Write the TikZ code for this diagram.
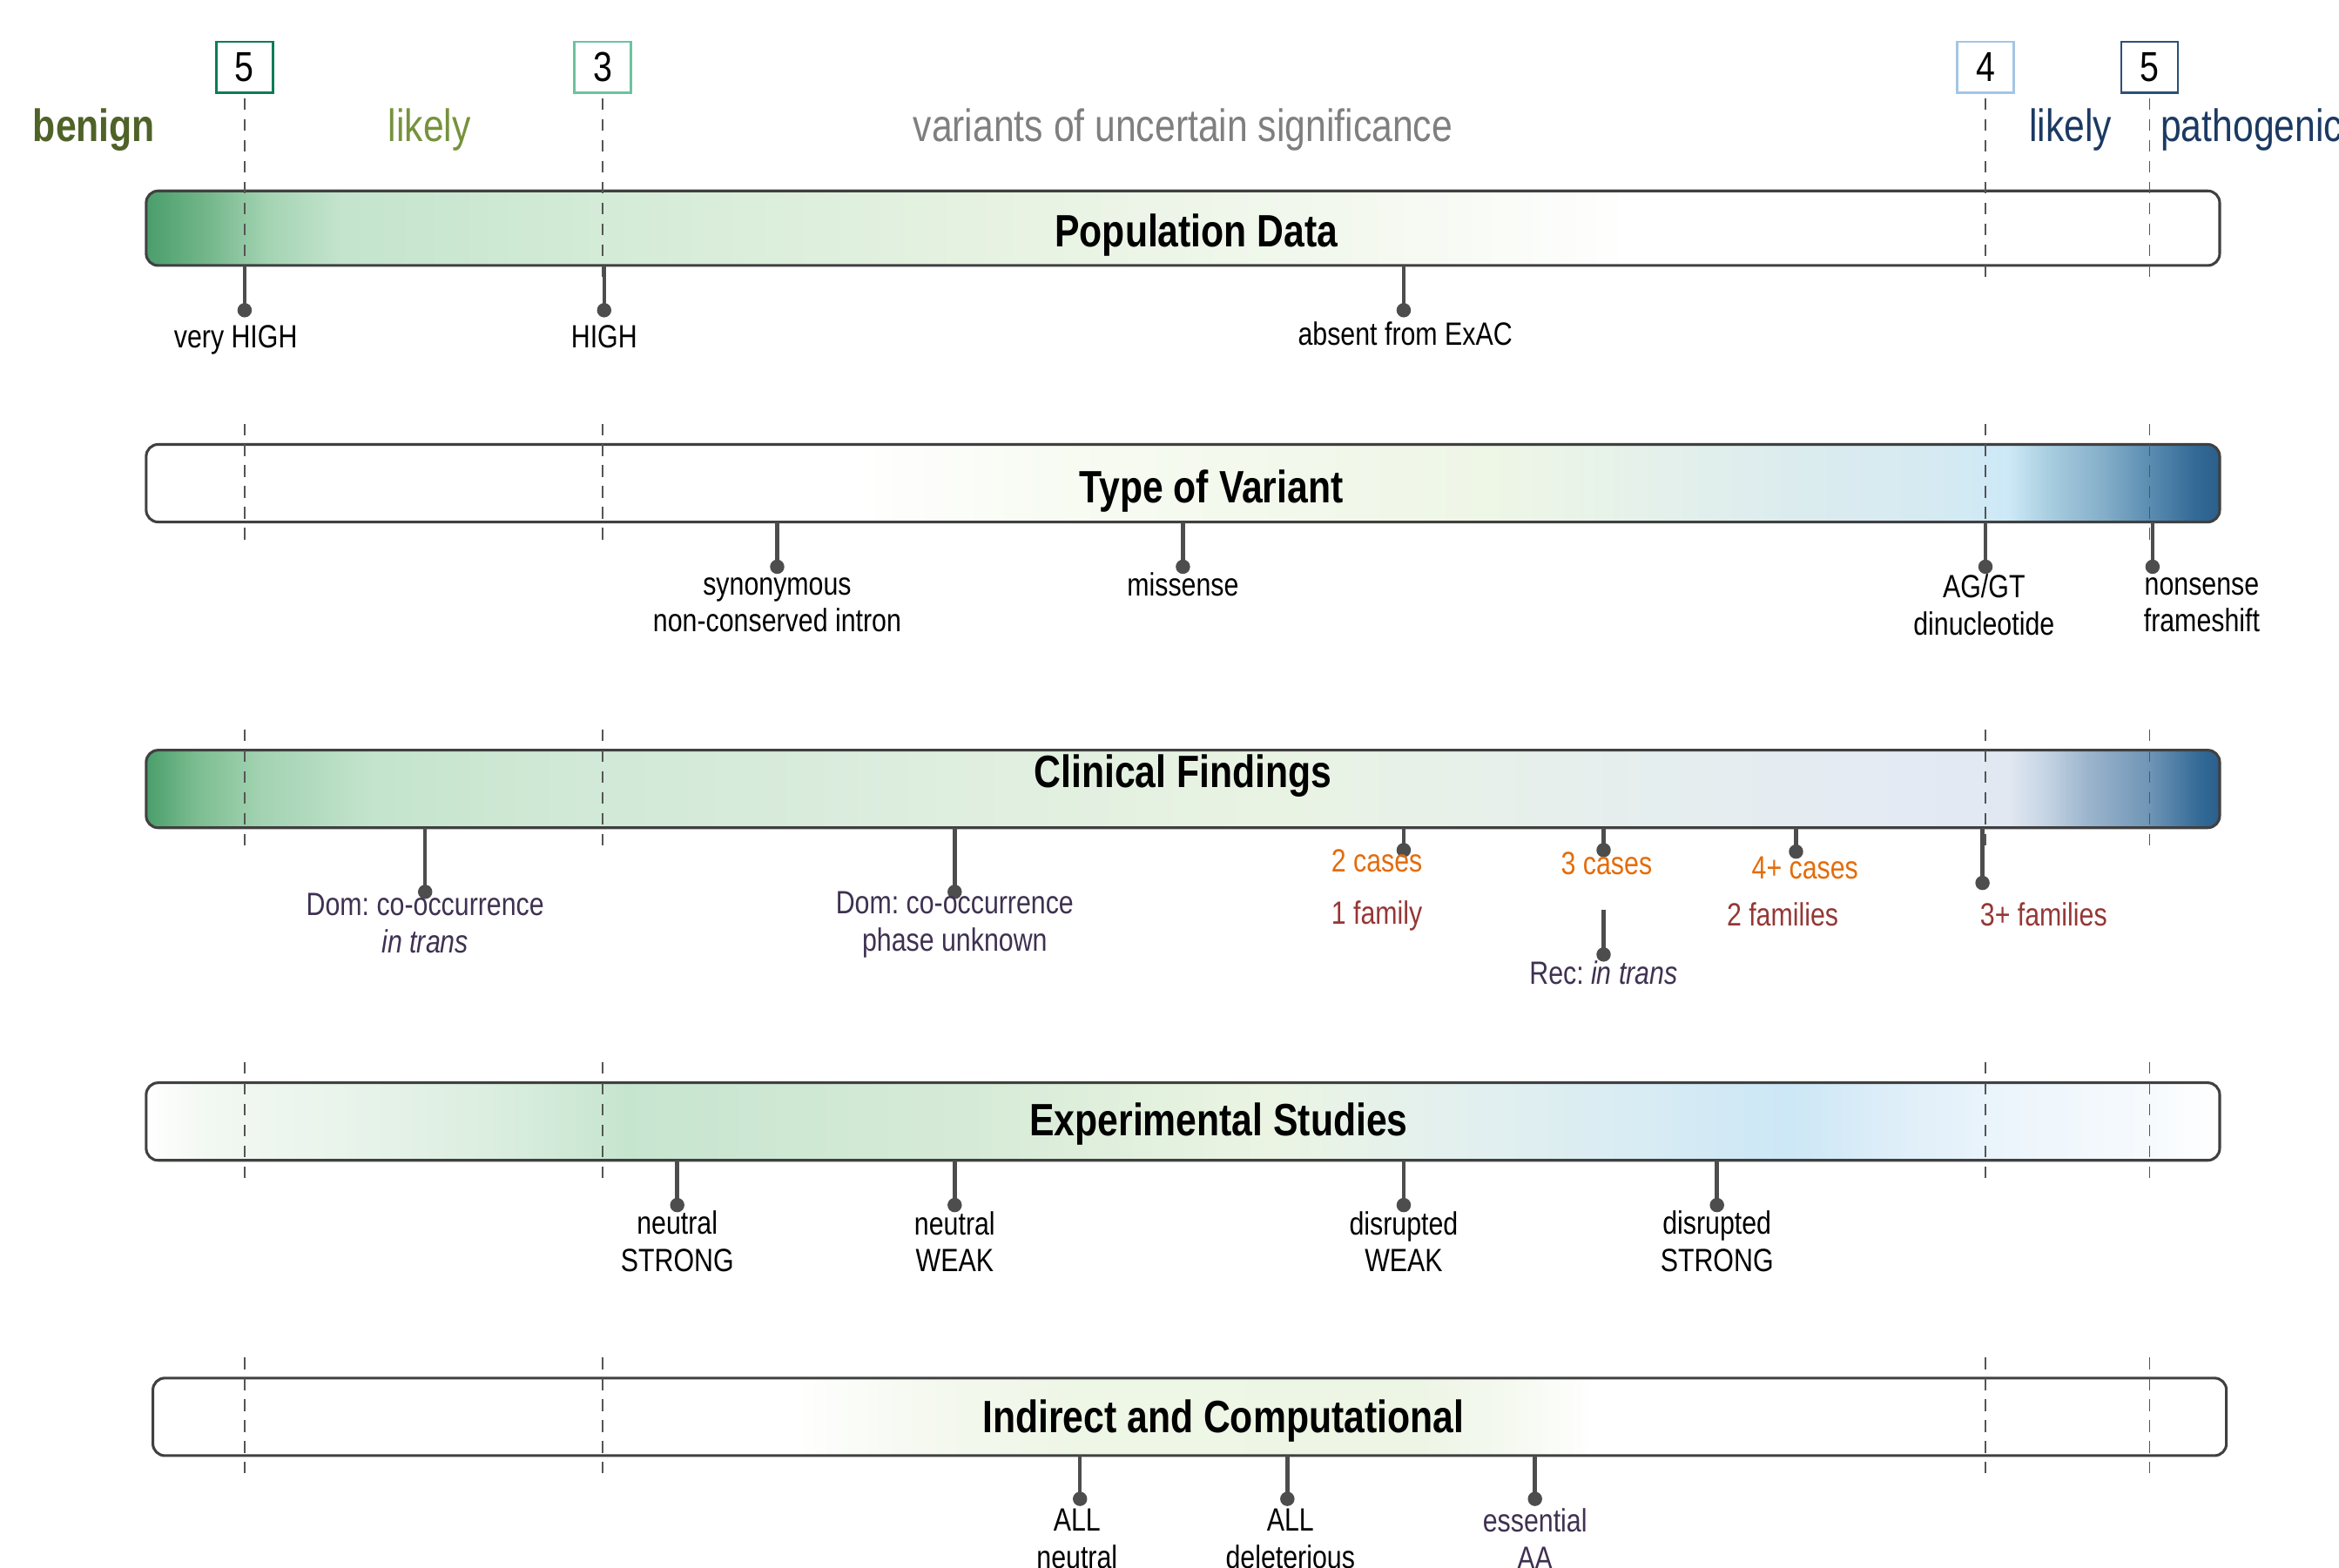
\documentclass[tikz,border=0pt]{standalone}
\usepackage{fontspec}
\setmainfont{Liberation Sans}[FakeStretch=0.82]
\usepackage{tikz}
\usetikzlibrary{positioning}
\frenchspacing

% colours used by the bar shadings
\definecolor{grn0}{HTML}{4A9E6B}
\definecolor{grn1}{HTML}{74B78B}
\definecolor{grn2}{HTML}{A3D3B2}
\definecolor{grn3}{HTML}{C4E4CD}
\definecolor{grn4}{HTML}{D3EBD7}
\definecolor{grn5}{HTML}{E6F2E1}
\definecolor{grn6}{HTML}{F3F8EE}
\definecolor{pale1}{HTML}{F8FBF3}
\definecolor{pale2}{HTML}{EEF6E6}
\definecolor{sky1}{HTML}{DCECEE}
\definecolor{sky2}{HTML}{D5EAF2}
\definecolor{sky3}{HTML}{CDE9F7}
\definecolor{blu1}{HTML}{ABCFE2}
\definecolor{blu2}{HTML}{84AEC9}
\definecolor{blu3}{HTML}{5B8DB1}
\definecolor{blu4}{HTML}{336A96}
\definecolor{blu5}{HTML}{2B5F8C}
\definecolor{clA}{HTML}{7CBD90}
\definecolor{clB}{HTML}{CFE8D5}
\definecolor{clC}{HTML}{DCEDDE}
\definecolor{clD}{HTML}{E9F3E3}
\definecolor{clE}{HTML}{E6EFEC}
\definecolor{clF}{HTML}{E4EBF3}
\definecolor{clG}{HTML}{E1E8F2}
\definecolor{clH}{HTML}{C5D4E4}
\definecolor{clI}{HTML}{9CB5CD}
\definecolor{clJ}{HTML}{6F95B6}
\definecolor{exA}{HTML}{F2F8F2}
\definecolor{exB}{HTML}{E9F4EB}
\definecolor{exC}{HTML}{DBEEE0}
\definecolor{exD}{HTML}{C6E5CF}
\definecolor{exE}{HTML}{CCE7D3}
\definecolor{exF}{HTML}{D6EBD7}
\definecolor{exG}{HTML}{EBF4E3}
\definecolor{exH}{HTML}{E1EFF0}
\definecolor{exI}{HTML}{D8ECF3}
\definecolor{exJ}{HTML}{CCE7F6}
\definecolor{exK}{HTML}{E0EFF9}
\definecolor{exL}{HTML}{EEF6FC}
\definecolor{exM}{HTML}{F6FAFD}
\definecolor{inA}{HTML}{F5F9F0}
\definecolor{inB}{HTML}{EDF5E5}
\definecolor{inC}{HTML}{F6FAF2}

\pgfdeclarehorizontalshading{popshade}{100bp}{color(0bp)=(grn0); color(25bp)=(grn0);
  color(26.5bp)=(grn1); color(27.9bp)=(grn2); color(29.7bp)=(grn3); color(35.9bp)=(grn4);
  color(44.9bp)=(grn5); color(53.8bp)=(grn6); color(61bp)=(white); color(100bp)=(white)}
\pgfdeclarehorizontalshading{typeshade}{100bp}{color(0bp)=(white); color(42bp)=(white);
  color(46.7bp)=(pale1); color(57.4bp)=(pale2); color(64.6bp)=(sky1); color(68.2bp)=(sky2);
  color(69.9bp)=(sky3); color(70.8bp)=(blu1); color(72.2bp)=(blu2); color(73.3bp)=(blu3);
  color(74.4bp)=(blu4); color(75bp)=(blu5); color(100bp)=(blu5)}
\pgfdeclarehorizontalshading{clinshade}{100bp}{color(0bp)=(grn0); color(25bp)=(grn0);
  color(26.2bp)=(clA); color(27.8bp)=(grn2); color(30.5bp)=(grn3); color(34.4bp)=(clB);
  color(43bp)=(clC); color(52bp)=(clD); color(59.2bp)=(clE); color(66.4bp)=(clF);
  color(69.9bp)=(clG); color(70.8bp)=(clH); color(71.8bp)=(clI); color(73.3bp)=(clJ);
  color(74.5bp)=(blu4); color(75bp)=(blu5); color(100bp)=(blu5)}
\pgfdeclarehorizontalshading{expshade}{100bp}{color(0bp)=(white); color(25bp)=(white);
  color(26.5bp)=(exA); color(29.7bp)=(exB); color(33.3bp)=(exC); color(36.6bp)=(exD);
  color(39.5bp)=(exE); color(44.9bp)=(exF); color(52bp)=(exG); color(57.4bp)=(exH);
  color(61bp)=(exI); color(64.6bp)=(exJ); color(67.5bp)=(exK); color(70.4bp)=(exL);
  color(73.3bp)=(exM); color(75bp)=(white); color(100bp)=(white)}
\pgfdeclarehorizontalshading{indshade}{100bp}{color(0bp)=(white); color(40.4bp)=(white);
  color(43.6bp)=(inA); color(47.2bp)=(pale2); color(55.5bp)=(inB);
  color(58bp)=(inC); color(59.8bp)=(white); color(100bp)=(white)}

\definecolor{barline}{HTML}{404040}
\definecolor{pincol}{HTML}{4D4D4D}
\definecolor{gradecol}{HTML}{555555}

\tikzset{
  bar/.style={draw=barline, line width=0.9pt, rounded corners=4pt, shade,
    minimum width=695pt, minimum height=26pt, inner sep=0pt, outer sep=0pt},
  bartitle/.style={font=\fontsize{15.2}{18}\selectfont\bfseries, inner sep=0pt},
  header/.style={font=\fontsize{15.2}{18}\selectfont, inner sep=0pt},
  lbl/.style={font=\fontsize{10.8}{12.5}\selectfont, align=center, inner sep=0pt},
  scorebox/.style={line width=0.8pt, minimum width=19pt, minimum height=17pt,
    inner sep=0pt, fill=white, font=\fontsize{14}{16}\selectfont},
  pin/.style={draw=pincol, line width=1.3pt},
  grade/.style={draw=gradecol, line width=0.5pt, dash pattern=on 4pt off 3pt},
}

\begin{document}
\begin{tikzpicture}[x=0.5pt, y=-0.5pt]
% Defining colors
\definecolor{benigncol}{HTML}{4F6228}
\definecolor{likelygrn}{HTML}{76923C}
\definecolor{vuscol}{HTML}{7F7F7F}
\definecolor{pathblue}{HTML}{1B3A63}

\definecolor{box5g}{HTML}{0E7C56}
\definecolor{box3g}{HTML}{6CC2A0}
\definecolor{box4b}{HTML}{A4C6E6}
\definecolor{box5b}{HTML}{2D5079}

\definecolor{casecol}{HTML}{E46C0A}
\definecolor{famcol}{HTML}{953735}
\definecolor{domcol}{HTML}{3F3151}

\useasboundingbox (0,0) rectangle (1568,1051);

% =:=:=:=:=:=:=:=:=:=:=:=:=:=:=:=:=:=:=
% Score boxes and classes
% =:=:=:=:=:=:=:=:=:=:=:=:=:=:=:=:=:=:=
\node[scorebox, draw=box5g] (s1) at (164,45) {5};
\node[scorebox, draw=box3g] (s2) at (404,45) {3};
\node[scorebox, draw=box4b] (s3) at (1331,45) {4};
\node[scorebox, draw=box5b] (s4) at (1441,45) {5};

\node[header, text=benigncol] (benign) at (63,87) {\textbf{benign}};
\node[header, text=likelygrn] (lben) at (288,87) {likely};
\node[header, text=vuscol] (vus) at (793,87) {variants of uncertain significance};
\node[header, text=pathblue] (lpat) at (1388,87) {likely};
\node[header, text=pathblue, anchor=west] (patho) at (1448,87) {pathogenic};

% =:=:=:=:=:=:=:=:=:=:=:=:=:=:=:=:=:=:=
% The five bars
% =:=:=:=:=:=:=:=:=:=:=:=:=:=:=:=:=:=:=
\node[bar, shading=popshade, minimum height=25pt] (pop) at (793,153) {};
\node[bar, shading=typeshade] (tov) at (793,324) {};
\node[bar, shading=clinshade] (clin) at (793,529) {};
\node[bar, shading=expshade] (expt) at (793,752) {};
\node[bar, shading=indshade] (ind) at (797.5,950) {};

\node[bartitle] (popT) at (802,157.5) {Population Data};
\node[bartitle] (tovT) at (812,329.5) {Type of Variant};
\node[bartitle] (clinT) at (793,520.5) {Clinical Findings};
\node[bartitle] (exptT) at (817,753.5) {Experimental Studies};
\node[bartitle] (indT) at (820,952.5) {Indirect and Computational};

% dashed class borders
\foreach \sc in {s1,s2,s3,s4}{
  \draw[grade, shorten <=1.5pt, shorten >=-6pt] (\sc.south) -- (\sc |- pop.south);
  \foreach \rw in {tov,clin,expt,ind}
    \draw[grade, shorten <=-7pt, shorten >=-7pt] (\sc |- \rw.north) -- (\sc |- \rw.south);
}

% =:=:=:=:=:=:=:=:=:=:=:=:=:=:=:=:=:=:=
% Population Data
% =:=:=:=:=:=:=:=:=:=:=:=:=:=:=:=:=:=:=
\coordinate (vhd) at (164,208);
\coordinate (hid) at (405,208);
\coordinate (exd) at (941,208);
\draw[pin] (vhd |- pop.south) -- (vhd);
\draw[pin] (hid |- pop.south) -- (hid);
\draw[pin] (exd |- pop.south) -- (exd);
\filldraw[pincol] (vhd) circle (2.2pt) (hid) circle (2.2pt) (exd) circle (2.2pt);

\node[lbl] (vhigh) at (158,228) {very HIGH};
\node[lbl] (high) at (405,226) {HIGH};
\node[lbl] (exac) at (942,224) {absent from ExAC};

% =:=:=:=:=:=:=:=:=:=:=:=:=:=:=:=:=:=:=
% Type of Variant
% =:=:=:=:=:=:=:=:=:=:=:=:=:=:=:=:=:=:=
\coordinate (synd) at (521,380);
\coordinate (misd) at (793,380);
\coordinate (agd) at (1331,380);
\coordinate (nond) at (1443,380);
\draw[pin] (synd |- tov.south) -- (synd);
\draw[pin] (misd |- tov.south) -- (misd);
\draw[pin] (agd |- tov.south) -- (agd);
\draw[pin] (nond |- tov.south) -- (nond);
\filldraw[pincol] (synd) circle (2.2pt) (misd) circle (2.2pt)
    (agd) circle (2.2pt) (nond) circle (2.2pt);

\node[lbl] (syn) at (521,405.5) {synonymous\\non-conserved intron};
\node[lbl] (mis) at (793,392) {missense};
\node[lbl] (agt) at (1330,405.5) {AG/GT\\dinucleotide};
\node[lbl] (nons) at (1476,405.5) {nonsense\\frameshift};

% =:=:=:=:=:=:=:=:=:=:=:=:=:=:=:=:=:=:=
% Clinical Findings
% =:=:=:=:=:=:=:=:=:=:=:=:=:=:=:=:=:=:=
\coordinate (dom1d) at (285,598);
\coordinate (dom2d) at (640,598);
\coordinate (c2d) at (941,570);
\coordinate (c3d) at (1075,570);
\coordinate (c4d) at (1204,571);
\coordinate (f3d) at (1329,592);
\coordinate (recA) at (1075,610);
\coordinate (recd) at (1075,640);
\draw[pin] (dom1d |- clin.south) -- (dom1d);
\draw[pin] (dom2d |- clin.south) -- (dom2d);
\draw[pin] (c2d |- clin.south) -- (c2d);
\draw[pin] (c3d |- clin.south) -- (c3d);
\draw[pin] (c4d |- clin.south) -- (c4d);
\draw[pin] (f3d |- clin.south) -- (f3d);
\draw[pin] (recA) -- (recd);
\filldraw[pincol] (dom1d) circle (2.2pt) (dom2d) circle (2.2pt) (c2d) circle (2.2pt)
    (c3d) circle (2.2pt) (c4d) circle (2.2pt) (f3d) circle (2.2pt) (recd) circle (2.2pt);

\node[lbl, text=domcol] (dom1) at (285,619) {Dom: co-occurrence\\\textit{in trans}};
\node[lbl, text=domcol] (dom2) at (640,620) {Dom: co-occurrence\\phase unknown};
\node[lbl, text=casecol] (c2) at (923,577) {2 cases};
\node[lbl, text=casecol] (c3) at (1077,579) {3 cases};
\node[lbl, text=casecol] (c4) at (1210,582) {4+ cases};
\node[lbl, text=famcol] (f1) at (923,614) {1 family};
\node[lbl, text=famcol] (f2) at (1195,613) {2 families};
\node[lbl, text=famcol] (f3) at (1370,613) {3+ families};
\node[lbl, text=domcol] (rec) at (1075,652) {Rec: \textit{in trans}};

% =:=:=:=:=:=:=:=:=:=:=:=:=:=:=:=:=:=:=
% Experimental Studies
% =:=:=:=:=:=:=:=:=:=:=:=:=:=:=:=:=:=:=
\coordinate (nsd) at (454,808);
\coordinate (nwd) at (640,808);
\coordinate (dwd) at (941,808);
\coordinate (dsd) at (1151,808);
\draw[pin] (nsd |- expt.south) -- (nsd);
\draw[pin] (nwd |- expt.south) -- (nwd);
\draw[pin] (dwd |- expt.south) -- (dwd);
\draw[pin] (dsd |- expt.south) -- (dsd);
\filldraw[pincol] (nsd) circle (2.2pt) (nwd) circle (2.2pt)
    (dwd) circle (2.2pt) (dsd) circle (2.2pt);

\node[lbl] (nstr) at (454,832.5) {neutral\\STRONG};
\node[lbl] (nwk) at (640,832.5) {neutral\\WEAK};
\node[lbl] (dwk) at (941,832.5) {disrupted\\WEAK};
\node[lbl] (dstr) at (1151,832.5) {disrupted\\STRONG};

% =:=:=:=:=:=:=:=:=:=:=:=:=:=:=:=:=:=:=
% Indirect and Computational
% =:=:=:=:=:=:=:=:=:=:=:=:=:=:=:=:=:=:=
\coordinate (and) at (724,1005);
\coordinate (add) at (863,1005);
\coordinate (ead) at (1029,1005);
\draw[pin] (and |- ind.south) -- (and);
\draw[pin] (add |- ind.south) -- (add);
\draw[pin] (ead |- ind.south) -- (ead);
\filldraw[pincol] (and) circle (2.2pt) (add) circle (2.2pt) (ead) circle (2.2pt);

\node[lbl] (alln) at (722,1032) {ALL\\neutral};
\node[lbl] (alld) at (865,1032) {ALL\\deleterious};
\node[lbl, text=domcol] (essaa) at (1029,1032) {essential\\AA};

\end{tikzpicture}
\end{document}
